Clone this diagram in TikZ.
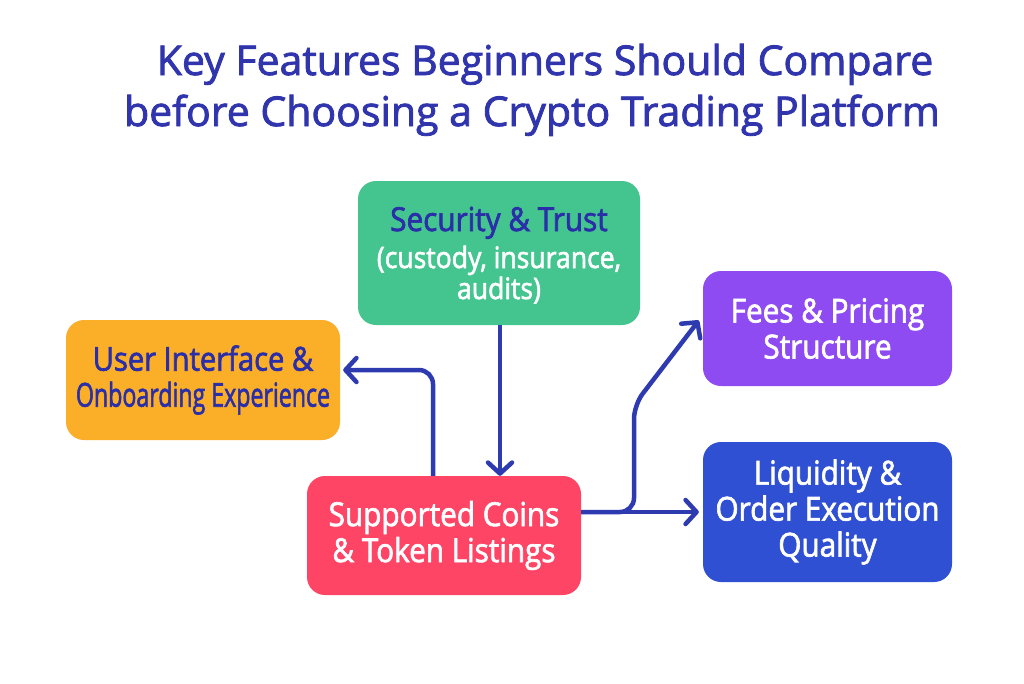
\documentclass[tikz,border=0pt]{standalone}
\usepackage{fontspec}
\setmainfont{Open Sans}
\newfontfamily\medfont{Open Sans}[FakeBold=2,FakeStretch=0.9]
\newfontfamily\ttlfont{Open Sans}[FakeBold=2]
\usetikzlibrary{arrows.meta}
\definecolor{titleblue}{HTML}{3035AE}
\definecolor{darktext}{HTML}{2A2EA8}
\definecolor{arrowblue}{HTML}{2E3AB0}
\definecolor{cgreen}{HTML}{44C590}
\definecolor{corange}{HTML}{FBAF29}
\definecolor{cred}{HTML}{FF4566}
\definecolor{cpurple}{HTML}{8F4BF2}
\definecolor{cblue}{HTML}{2F50D2}
\newcommand{\subtxt}[1]{\textcolor{white}{\fontsize{29.5}{31}\selectfont #1}}
\tikzset{
  box/.style={rounded corners=18pt, draw=none, align=center, inner sep=0pt},
  arr/.style={draw=arrowblue, line width=4.5pt, rounded corners=14pt,
    -{Straight Barb[length=11pt,width=24pt,line width=4.5pt,round]}},
  ttl/.style={font=\fontsize{41}{52}\selectfont\ttlfont, text=titleblue, anchor=base},
  bt/.style={font=\fontsize{33}{36}\selectfont\medfont}
}
\begin{document}
\begin{tikzpicture}[x=1pt,y=-1pt]
\useasboundingbox[fill=white] (0,0) rectangle (1024,683);
\node[ttl] (title1) at (545,75) {Key Features Beginners Should Compare};
\node[ttl] (title2) at (532,126) {before Choosing a Crypto Trading Platform};
\node[box, fill=cgreen, minimum width=282pt, minimum height=144pt, bt] (sec) at (499,253) {};
\node[bt, align=center, anchor=base] (sectxt) at (499,299)
  {\textcolor{darktext}{Security \& Trust}\\[1pt]\subtxt{(custody, insurance,}\\[-5pt]\subtxt{audits)}};
\node[box, fill=corange, minimum width=274pt, minimum height=120pt, bt, text=darktext] (ui) at (203,380)
  {\scalebox{0.98}[1]{User Interface \&}\\\scalebox{0.78}[1]{Onboarding Experience}};
\node[box, fill=cred, minimum width=274pt, minimum height=119pt, bt, text=white] (coins) at (444,535.5)
  {Supported Coins\\\& Token Listings};
\node[box, fill=cpurple, minimum width=249pt, minimum height=115pt, bt, text=white] (fees) at (827.5,328.5)
  {Fees \& Pricing\\Structure};
\node[box, fill=cblue, minimum width=249pt, minimum height=140pt, bt, text=white] (liq) at (827.5,512)
  {Liquidity \&\\Order Execution\\Quality};
\coordinate (uiin) at ([yshift=10pt]ui.east);
\coordinate (feesin) at ([yshift=8pt]fees.west);
\coordinate (coinsout) at (coins.east |- liq.west);
\draw[arr] (sec.south -| 500,0) -- (coins.north -| 500,0);
\draw[arr] ([xshift=-11pt]coins.north) |- ([xshift=3pt]uiin);
\draw[arr] (coinsout) -- ([xshift=-4pt]liq.west);
\draw[arr] (coinsout) -- (634,512) -- (634,405) -- ([xshift=-4pt]feesin);
\end{tikzpicture}
\end{document}
